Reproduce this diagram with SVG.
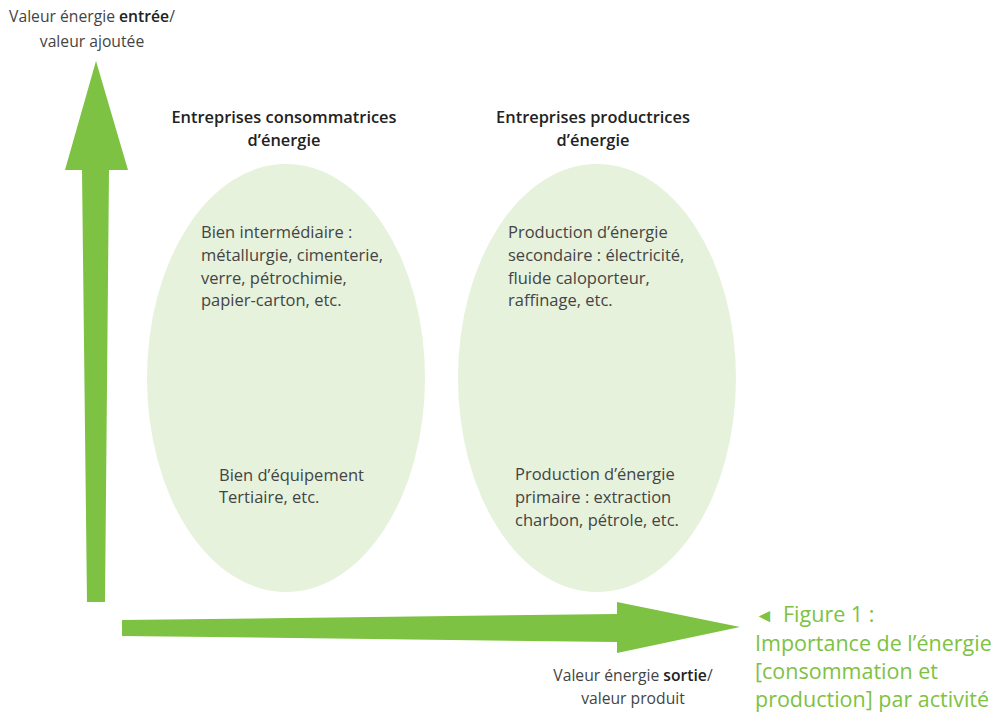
<svg xmlns="http://www.w3.org/2000/svg" width="996" height="713" viewBox="0 0 996 713">
  <style>
    .t { font-family: "Open Sans", "Liberation Sans", sans-serif; font-size: 16.5px; fill: #444; }
    .ax { font-size: 15.7px; text-anchor: middle; }
    .h { font-family: "Open Sans", "Liberation Sans", sans-serif; font-size: 16.4px; font-weight: 600; fill: #222; text-anchor: middle; }
    .b { font-weight: 600; fill: #222; }
    .cap { font-family: "Open Sans", "Liberation Sans", sans-serif; font-size: 21.5px; fill: #7dc242; }
    .blob { fill: #e6f2dc; }
    .arrow { fill: #7dc242; }
  </style>
  <rect width="996" height="713" fill="#fff"/>

  <!-- axes -->
  <g id="connectors">
    <path class="arrow" d="M96,61 L128,170 L109,170 L105,602 L87,602 L82,170 L65,170 Z"/>
    <path class="arrow" d="M122,620 L617,614 L617,602 L740,627 L617,653 L617,642 L122,636 Z"/>
  </g>

  <g id="axis-y-label">
    <text class="t ax" x="92" y="22">Valeur énergie <tspan class="b">entrée</tspan>/</text>
    <text class="t ax" x="92" y="47">valeur ajoutée</text>
  </g>
  <g id="axis-x-label">
    <text class="t ax" x="633" y="681">Valeur énergie <tspan class="b">sortie</tspan>/</text>
    <text class="t ax" x="633" y="704">valeur produit</text>
  </g>

  <g id="consommatrices">
    <text class="h" x="284" y="123">Entreprises consommatrices</text>
    <text class="h" x="284" y="146">d’énergie</text>
    <ellipse class="blob" cx="286" cy="378" rx="139" ry="214"/>
    <text class="t" x="201" y="238">Bien intermédiaire :</text>
    <text class="t" x="201" y="261">métallurgie, cimenterie,</text>
    <text class="t" x="201" y="284">verre, pétrochimie,</text>
    <text class="t" x="201" y="306">papier-carton, etc.</text>
    <text class="t" x="219" y="481">Bien d’équipement</text>
    <text class="t" x="219" y="503">Tertiaire, etc.</text>
  </g>

  <g id="productrices">
    <text class="h" x="593" y="123">Entreprises productrices</text>
    <text class="h" x="593" y="146">d’énergie</text>
    <ellipse class="blob" cx="597" cy="378" rx="139" ry="214"/>
    <text class="t" x="508" y="238">Production d’énergie</text>
    <text class="t" x="508" y="261">secondaire : électricité,</text>
    <text class="t" x="508" y="284">fluide caloporteur,</text>
    <text class="t" x="508" y="306">raffinage, etc.</text>
    <text class="t" x="515" y="480">Production d’énergie</text>
    <text class="t" x="515" y="503">primaire : extraction</text>
    <text class="t" x="515" y="526">charbon, pétrole, etc.</text>
  </g>

  <g id="caption">
    <text class="cap" x="755" y="622"><tspan font-size="19">◄</tspan><tspan x="783">Figure 1 :</tspan></text>
    <text class="cap" x="755" y="651">Importance de l’énergie</text>
    <text class="cap" x="755" y="679">[consommation et</text>
    <text class="cap" x="755" y="707">production] par activité</text>
  </g>
</svg>
